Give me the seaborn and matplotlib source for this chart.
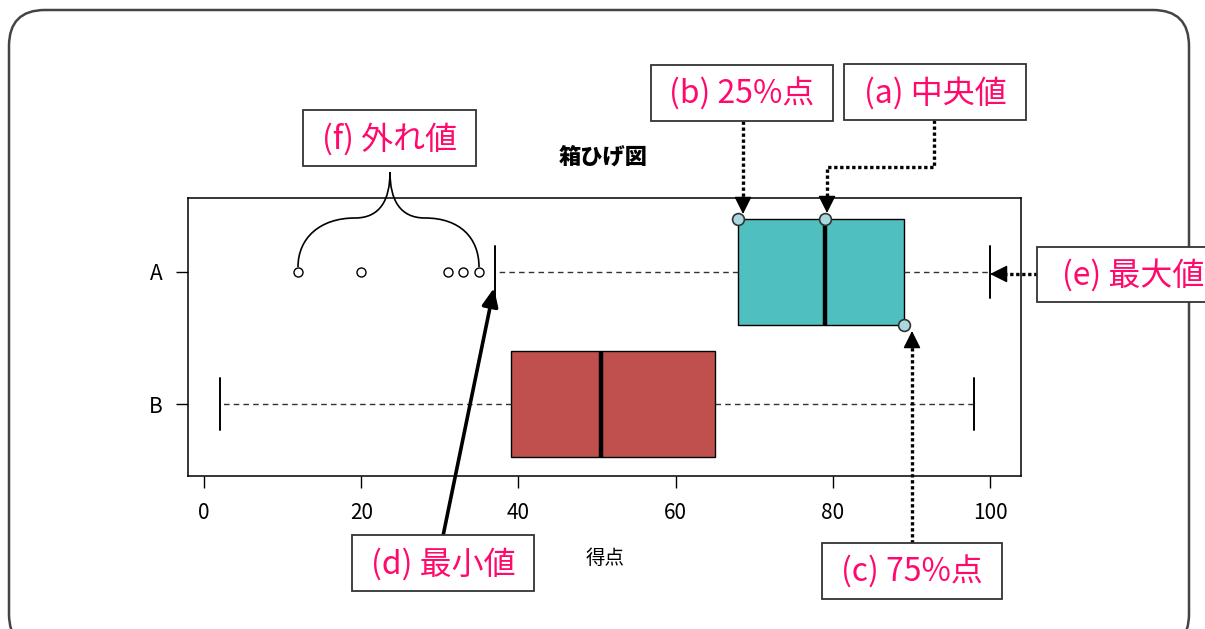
import numpy as np
import pandas as pd
import matplotlib
matplotlib.use("Agg")
import matplotlib.pyplot as plt
import seaborn as sns
from matplotlib.patches import Rectangle, FancyBboxPatch, PathPatch
from matplotlib.path import Path
from matplotlib.lines import Line2D
from matplotlib.transforms import IdentityTransform

W, H = 1205, 629

# 5数要約 (最小, 25%点, 中央値, 75%点, 最大)
groups = ["A", "B"]
summary_a = [37, 68, 79, 89, 100]
summary_b = [2, 39, 50.5, 65, 98]
outliers_a = [12, 20, 31, 33, 35]
box_colors = ["#4FBFBF", "#C0504D"]
x_ticks = [0, 20, 40, 60, 80, 100]

pink = "#FF0A6C"

sns.set_theme(style="white")
plt.rcParams["font.family"] = ["Noto Sans CJK JP", "DejaVu Sans"]
plt.rcParams["text.color"] = "black"

df = pd.DataFrame({
    "group": ["A"] * len(summary_a) + ["B"] * len(summary_b),
    "score": summary_a + summary_b,
})

fig = plt.figure(figsize=(W / 100, H / 100), dpi=100)
ax = fig.add_axes([188 / W, 1 - 476 / H, (1021 - 188) / W, (476 - 198) / H])

sns.stripplot(x=outliers_a, y=["A"] * len(outliers_a), order=groups, jitter=False,
              color="white", edgecolor="black", linewidth=1, size=6.5, ax=ax, zorder=3)
sns.boxplot(data=df, x="score", y="group", hue="group", order=groups,
            palette=box_colors, saturation=1, width=0.8, whis=1.5, showfliers=False,
            linecolor="black", linewidth=1, legend=False, ax=ax,
            medianprops=dict(linewidth=3.2, color="black"),
            whiskerprops=dict(linestyle=(0, (4, 3)), linewidth=1, color="#333333"),
            capprops=dict(linewidth=1.4, color="black"))

ax.set_xlim(-2.04, 103.95)
ax.set_ylim(1.545, -0.56)
ax.set_xticks(x_ticks)
ax.set_xticklabels([str(v) for v in x_ticks], fontsize=15)
ax.set_yticks([0, 1])
ax.set_yticklabels(groups, fontsize=15)
ax.tick_params(axis="both", which="major", bottom=True, left=True, direction="out",
               length=8.5, width=1, color="black", labelcolor="black", pad=10)
ax.set_xlabel("")
ax.set_ylabel("")
for s in ax.spines.values():
    s.set_color("black")
    s.set_linewidth(1.1)

# 四分位点のマーカー
ax.plot([summary_a[1], summary_a[2]], [-0.4, -0.4], "o", ms=8.5, mfc="#A9D9DE",
        mec="#333333", mew=1.2, clip_on=False, zorder=6)
ax.plot([summary_a[3]], [0.4], "o", ms=8.5, mfc="#A9D9DE", mec="#333333",
        mew=1.2, clip_on=False, zorder=6)

T = IdentityTransform()


def P(x, y):
    return (x, H - y)


# 外枠
frame = FancyBboxPatch(P(9, 650), 1180, 640, boxstyle="round,pad=0,rounding_size=36",
                       transform=T, fill=False, edgecolor="#444444", linewidth=1.8)
fig.add_artist(frame)

fig.text(*P(603, 157), "箱ひげ図", transform=T, ha="center", va="center",
         fontsize=16, fontweight="heavy")
fig.text(*P(605, 558), "得点", transform=T, ha="center", va="center", fontsize=14)


def label_box(x0, y0, x1, y1, text):
    fig.add_artist(Rectangle(P(x0, y1), x1 - x0, y1 - y0, transform=T,
                             facecolor="white", edgecolor="#333333", linewidth=1.3, zorder=5))
    fig.text(*P((x0 + x1) / 2, (y0 + y1) / 2 + 1), text, transform=T, ha="center",
             va="center", color=pink, fontsize=23, zorder=6)


dot = (0, (1, 0.8))


def dotted(points):
    xs = [p[0] for p in points]
    ys = [H - p[1] for p in points]
    fig.add_artist(Line2D(xs, ys, transform=T, color="black", linewidth=2.4, linestyle=dot))


def head(x0, y0, x1, y1):
    ax.annotate("", xy=P(x1, y1), xycoords="figure pixels", xytext=P(x0, y0),
                textcoords="figure pixels",
                arrowprops=dict(arrowstyle="-|>,head_length=0.9,head_width=0.45",
                                color="black", linewidth=1, shrinkA=0, shrinkB=0))


label_box(651, 65, 833, 121, "(b) 25%点")
dotted([(743, 121), (743, 200)])
head(743, 199, 743, 214)

label_box(844, 64, 1026, 120, "(a) 中央値")
dotted([(934, 120), (934, 167), (827, 167), (827, 200)])
head(827, 199, 827, 213)

label_box(822, 543, 1002, 599, "(c) 75%点")
dotted([(912, 543), (912, 345)])
head(912, 346, 912, 331)

label_box(1037, 247, 1230, 302, "(e) 最大値")
dotted([(1037, 274), (1003, 274)])
head(1004, 274, 990, 274)

label_box(352, 535, 534, 591, "(d) 最小値")
ax.annotate("", xy=P(494, 288), xycoords="figure pixels", xytext=P(443, 536),
            textcoords="figure pixels",
            arrowprops=dict(arrowstyle="-|>,head_length=0.9,head_width=0.4",
                            color="black", linewidth=2.6, shrinkA=0, shrinkB=0))

label_box(303, 110, 476, 166, "(f) 外れ値")
brace_pts = [P(390, 172), P(390, 200), P(380, 218), P(355, 218),
             P(320, 218), P(298, 238), P(298, 267)]
brace_codes = [Path.MOVETO, Path.CURVE4, Path.CURVE4, Path.CURVE4,
               Path.CURVE4, Path.CURVE4, Path.CURVE4]
fig.add_artist(PathPatch(Path(brace_pts, brace_codes), transform=T, fill=False,
                         edgecolor="black", linewidth=1.2))
brace_pts_r = [P(390, 172), P(390, 200), P(400, 218), P(425, 218),
               P(460, 218), P(479, 238), P(479, 267)]
fig.add_artist(PathPatch(Path(brace_pts_r, brace_codes), transform=T, fill=False,
                         edgecolor="black", linewidth=1.2))

fig.savefig("out.png", dpi=100)
